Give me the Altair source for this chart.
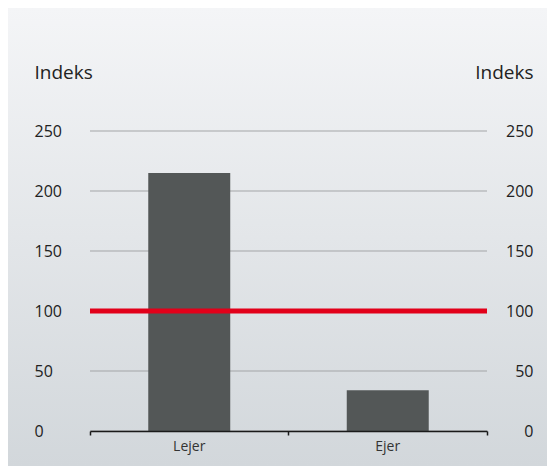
import altair as alt
import pandas as pd

categories = ["Lejer", "Ejer"]
values = [215, 34]
reference = [100]
y_ticks = [0, 50, 100, 150, 200, 250]

W, H = 397, 300
FONT = "Open Sans"

bars_df = pd.DataFrame({"kategori": categories, "indeks": values})
ref_df = pd.DataFrame({"ref": reference})
grid_df = pd.DataFrame({"t": y_ticks})

yscale = alt.Scale(domain=[0, 250])

bg = alt.Chart(alt.Data(values=[{}])).mark_rect(
    fill=alt.Gradient(
        gradient="linear", x1=0, y1=0, x2=0, y2=1,
        stops=[alt.GradientStop(color="#f4f5f7", offset=0),
               alt.GradientStop(color="#d2d7db", offset=1)],
    )
).encode(x=alt.value(-82), x2=alt.value(457), y=alt.value(-123), y2=alt.value(335))

grid = alt.Chart(grid_df).mark_rule(color="#a3a5a7", strokeWidth=1).encode(
    y=alt.Y("t:Q", scale=yscale, axis=None),
    x=alt.value(0), x2=alt.value(W),
)

axis_common = dict(
    values=y_ticks, grid=False, ticks=False, domain=False, zindex=1,
    labelFontSize=16, labelColor="#222", labelFont=FONT,
    title="Indeks", titleAngle=0, titleFontSize=19, titleFontWeight="normal",
    titleColor="#222", titleFont=FONT, titleBaseline="alphabetic", titleY=-53,
)

bars = alt.Chart(bars_df).mark_bar(color="#535757", width=alt.RelativeBandSize(0.413)).encode(
    x=alt.X("kategori:N", sort=categories,
            scale=alt.Scale(paddingInner=0, paddingOuter=0),
            axis=alt.Axis(title=None, bandPosition=1, tickExtra=True, labelAngle=0,
                          domainColor="#1a1a1a", domainWidth=1.5, tickColor="#1a1a1a",
                          tickSize=4, tickWidth=1.5, labelPadding=4, labelFontSize=14,
                          labelColor="#333", labelFont=FONT, grid=False, zindex=1)),
    y=alt.Y("indeks:Q", scale=yscale,
            axis=alt.Axis(orient="left", labelAlign="left", labelPadding=56,
                          titleAlign="left", titleX=-56, **axis_common)),
)

rule = alt.Chart(ref_df).mark_rule(color="#e2001a", strokeWidth=5).encode(
    y=alt.Y("ref:Q", scale=yscale,
            axis=alt.Axis(orient="right", labelAlign="right", labelPadding=46,
                          titleAlign="right", titleX=46, **axis_common)),
    x=alt.value(0), x2=alt.value(W),
)

chart = alt.layer(bg, grid, bars, rule).resolve_scale(y="independent").resolve_axis(
    y="independent"
).properties(width=W, height=H, padding=0).configure_view(stroke=None)

chart.save("out.html", embed_options={"renderer": "svg", "actions": False})
